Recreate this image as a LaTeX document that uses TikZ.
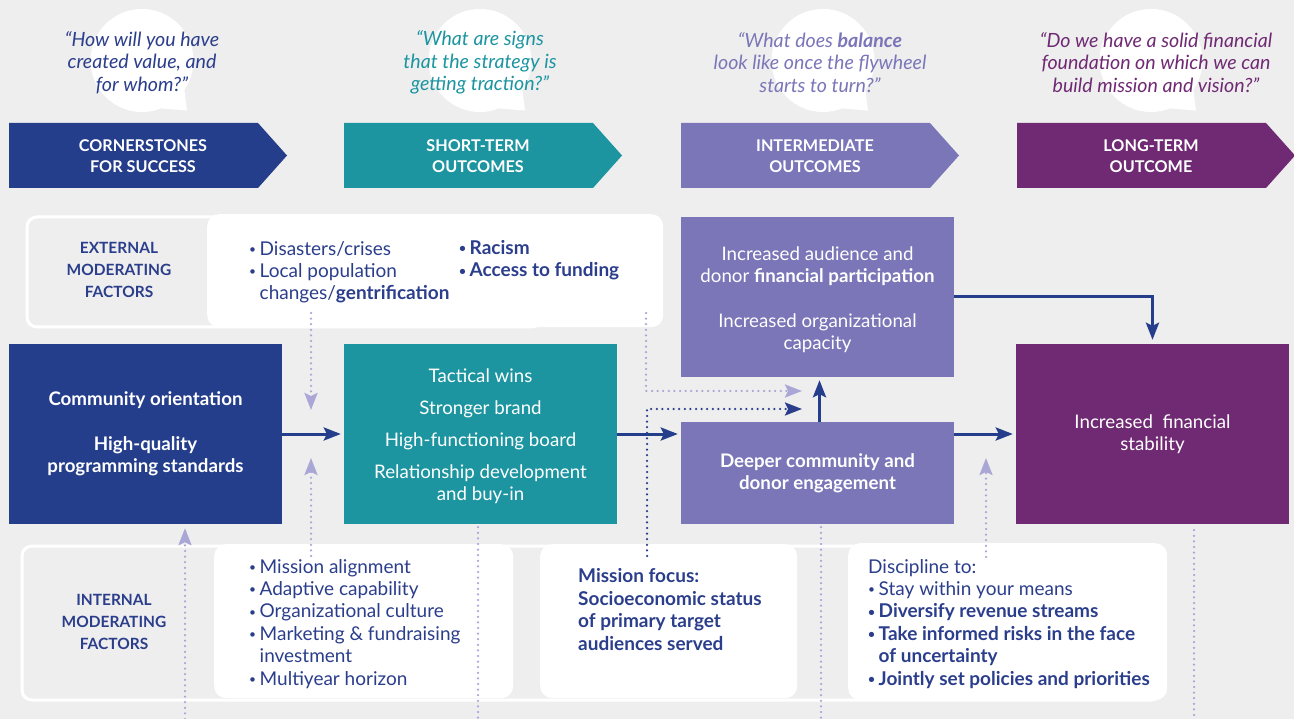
\documentclass[tikz,border=0pt]{standalone}
\usepackage{fontspec}
\setmainfont{Lato}
\usetikzlibrary{arrows.meta,calc,positioning}
\definecolor{bgGrey}{RGB}{238,238,238}
\definecolor{cornerBlue}{RGB}{37,62,140}
\definecolor{shortTeal}{RGB}{28,149,160}
\definecolor{midLavender}{RGB}{122,118,184}
\definecolor{longPlum}{RGB}{111,42,115}
\definecolor{inkBlue}{RGB}{43,62,140}
\definecolor{dotLavender}{RGB}{170,166,214}
\newcommand{\dotitem}{\makebox[10.5pt][l]{\fontsize{12}{12}\selectfont\raisebox{1.6pt}{•}}}
\tikzset{
  header/.style = {text=white, font=\fontsize{16.2}{21}\selectfont\bfseries, align=center, inner sep=0pt},
  bubble/.style = {circle, fill=white, minimum size=103pt, inner sep=0pt},
  quotetext/.style = {text=#1, font=\fontsize{19.6}{22.5}\selectfont\itshape, align=center},
  stagebox/.style = {fill=#1, text=white, font=\fontsize{18.7}{22.3}\selectfont, align=center, minimum width=273pt, inner sep=0pt},
  band/.style = {draw=white, line width=3pt, rounded corners=10pt, inner sep=0pt, anchor=north west},
  factorbox/.style = {fill=white, rounded corners=12pt, inner sep=0pt, anchor=north west},
  factorlabel/.style = {text=inkBlue, font=\fontsize{15.5}{22.3}\selectfont\bfseries, align=center},
  factortext/.style = {text=inkBlue, font=\fontsize{19}{22.4}\selectfont, align=left, anchor=base west, inner sep=0pt},
  flow/.style = {draw=cornerBlue, line width=3pt, ->},
  influence/.style = {draw=#1, line width=2.5pt, line cap=round, dash pattern=on 0pt off 5.6pt}
}
\begin{document}
\begin{tikzpicture}[x=1pt, y=-1pt, >={Stealth[length=17pt,width=13pt,inset=3pt]}]
\useasboundingbox (0,0) rectangle (1294,719);
\fill[bgGrey] (0,0) rectangle (1294,719);

\node[bubble] (bubCorner) at (142,60.5) {};
\node[bubble] (bubShort) at (480,60.5) {};
\node[bubble] (bubMid) at (823,60.5) {};
\node[bubble] (bubLong) at (1151,60.5) {};
\foreach \b in {bubCorner,bubShort,bubMid,bubLong}
  \fill[white] (\b.-35) -- ($(\b.center)+(45,50)$) -- (\b.-68) -- cycle;

\node[quotetext=inkBlue] (askCorner) at (142,62.5) {“How will you have\\created value, and\\for whom?”};
\node[quotetext=shortTeal] (askShort) at (480,62.5) {“What are signs\\that the strategy is\\getting traction?”};
\node[quotetext=midLavender] (askMid) at (820,62.5) {“What does \textbf{balance}\\look like once the flywheel\\starts to turn?”};
\node[quotetext=longPlum] (askLong) at (1156,62.5) {“Do we have a solid financial\\foundation on which we can\\build mission and vision?”};

\foreach \x/\c/\n/\t in {9/cornerBlue/hdCorner/{CORNERSTONES\\FOR SUCCESS},
                         344/shortTeal/hdShort/{SHORT-TERM\\OUTCOMES},
                         681/midLavender/hdMid/{INTERMEDIATE\\OUTCOMES},
                         1017/longPlum/hdLong/{LONG-TERM\\OUTCOME}} {
  \fill[\c] (\x,123) -- ++(249,0) -- ++(29,32.5) -- ++(-29,32.5) -- ++(-249,0) -- cycle;
  \node[header] (\n) at (\x+134,156) {\t};
}

\node[band, minimum width=515pt, minimum height=110pt] (extBand) at (25.5,215.5) {};
\node[factorbox, minimum width=456pt, minimum height=113pt] (extBox) at (207,214) {};
\node[factorlabel] (extLabel) at (119,270) {EXTERNAL\\MODERATING\\FACTORS};
\node[factortext] (extList) at (249,300) {\dotitem Disasters/crises\\\dotitem Local population\\\hspace{10.5pt}changes/\textbf{gentrification}};
\node[factortext] (extListB) at (459,277) {\textbf{\dotitem Racism}\\\textbf{\dotitem Access to funding}};

\node[band, minimum width=1139pt, minimum height=154pt] (intBand) at (20.5,544.5) {};
\node[factorbox, minimum width=299pt, minimum height=154pt] (intBox) at (214,544) {};
\node[factorbox, minimum width=257pt, minimum height=154pt] (focusBox) at (540,544) {};
\node[factorbox, minimum width=319pt, minimum height=157pt] (discBox) at (848,543) {};
\node[factorlabel] (intLabel) at (114,622) {INTERNAL\\MODERATING\\FACTORS};
\node[factortext] (intList) at (249,685) {\dotitem Mission alignment\\\dotitem Adaptive capability\\\dotitem Organizational culture\\\dotitem Marketing \& fundraising\\\hspace{10.5pt}investment\\\dotitem Multiyear horizon};
\node[factortext, font=\fontsize{19}{22.4}\selectfont\bfseries] (focusText) at (578,650) {Mission focus:\\Socioeconomic status\\of primary target\\audiences served};
\node[factortext] (discText) at (868,685) {Discipline to:\\\dotitem Stay within your means\\\textbf{\dotitem Diversify revenue streams}\\\textbf{\dotitem Take informed risks in the face}\\\hspace{10.5pt}\textbf{of uncertainty}\\\textbf{\dotitem Jointly set policies and priorities}};

\node[stagebox=cornerBlue, minimum height=180pt, font=\fontsize{18.7}{22.3}\selectfont\bfseries] (community) at (145.5,434) {Community orientation\\[22.3pt]High-quality\\programming standards};
\node[stagebox=shortTeal, minimum height=180pt, text height=0pt] (tactical) at (480.5,434) {};
\node[text=white, font=\fontsize{18.7}{22.3}\selectfont, align=center] (tacticalText) at (480.5,436) {Tactical wins\\[9.7pt]Stronger brand\\[9.7pt]High-functioning board\\[9.7pt]Relationship development\\and buy-in};
\node[stagebox=midLavender, minimum height=160pt] (capacity) at (817.5,297) {};
\node[text=white, font=\fontsize{18.7}{22.3}\selectfont, align=center] (capacityText) at (817.5,299.5) {Increased audience and\\donor \textbf{financial participation}\\[22.3pt]Increased organizational\\capacity};
\node[stagebox=midLavender, minimum height=102pt, font=\fontsize{18.7}{22.3}\selectfont\bfseries] (engagement) at (817.5,473) {Deeper community and\\donor engagement};
\node[stagebox=longPlum, minimum height=180pt] (stability) at (1152.5,434) {Increased\ \ financial\\stability};

\draw[flow, shorten >=3pt] (community.east) -- (tactical.west);
\draw[flow, shorten >=3pt] (tactical.east) -- (tactical.east -| engagement.west);
\draw[flow, shorten >=3pt] (engagement.east |- stability.west) -- (stability.west);
\draw[flow, shorten >=4pt] (capacity.east) -| (stability.north);
\draw[flow, shorten >=3pt] ($(engagement.north)+(2,0)$) -- ($(capacity.south)+(2,0)$);

\coordinate (extDropA) at (311,313);
\coordinate (gapA) at (311,410);
\coordinate (intRiseA) at (311,556);
\coordinate (gapB) at (311,458);
\coordinate (extDropB) at (646,313);
\coordinate (joinA) at (802,391);
\coordinate (intRiseB) at (647,556);
\coordinate (joinB) at (802,409);
\coordinate (intRiseC) at (986,557);
\coordinate (gapC) at (986,458);
\coordinate (edgeA) at (185,719);
\coordinate (edgeB) at (478,719);
\coordinate (edgeC) at (821,719);
\coordinate (edgeD) at (1194,719);

\draw[influence=dotLavender, ->] (extDropA) -- (gapA);
\draw[influence=dotLavender, ->] (intRiseA) -- (gapB);
\draw[influence=dotLavender, ->] (extDropB) |- (joinA);
\draw[influence=inkBlue, ->] (intRiseB) |- (joinB);
\draw[influence=dotLavender, ->] (intRiseC) -- (gapC);
\draw[influence=dotLavender, ->, shorten >=4pt] (edgeA) -- (community.south -| edgeA);
\draw[influence=dotLavender] ($(tactical.south -| edgeB)+(0,3)$) -- (edgeB);
\draw[influence=dotLavender] ($(engagement.south -| edgeC)+(0,3)$) -- (edgeC);
\draw[influence=dotLavender] ($(stability.south -| edgeD)+(0,6)$) -- (edgeD);
\end{tikzpicture}
\end{document}
